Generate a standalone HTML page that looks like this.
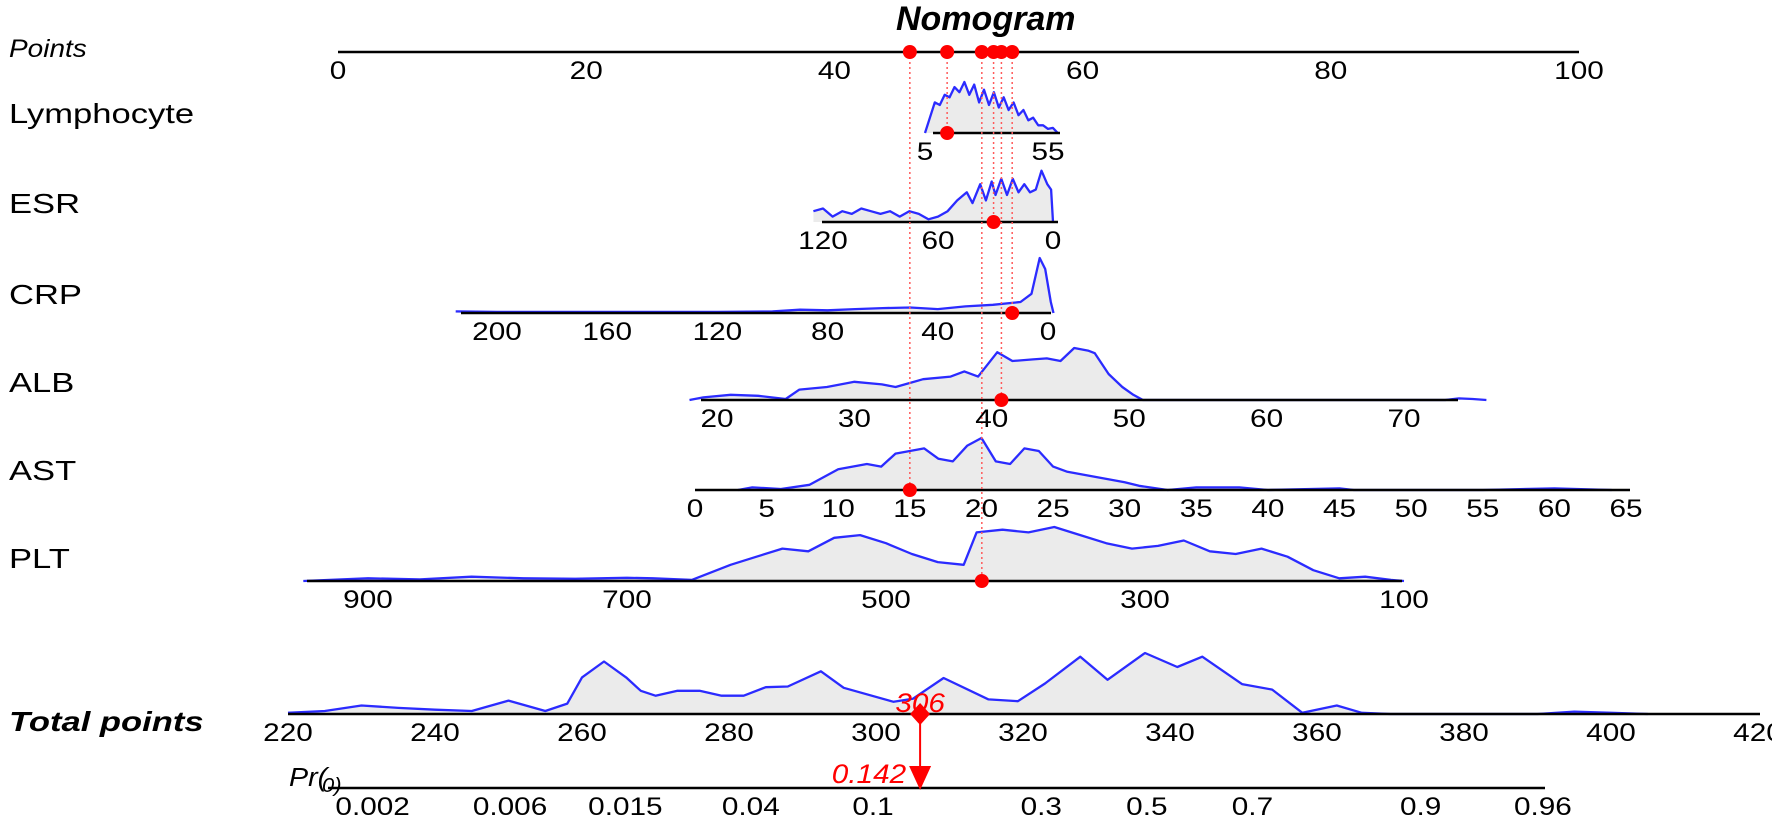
<!DOCTYPE html>
<html><head><meta charset="utf-8"><style>
html,body{margin:0;padding:0;background:#fff;}
svg{display:block;font-family:"Liberation Sans",sans-serif;}
</style></head>
<body>
<svg id="chart" width="1772" height="817" viewBox="0 0 1772 817" xmlns="http://www.w3.org/2000/svg">
<g id="dens"></g>
<g id="axes"></g>
<g id="marks"></g>
<g id="labels"></g>
</svg>
<script>
// ---- data ----
const pointsTicks = [0,20,40,60,80,100];
const lymphTicks = [5,55];
const esrTicks = [120,60,0];
const crpTicks = [200,160,120,80,40,0];
const albTicks = [20,30,40,50,60,70];
const astTicks = [0,5,10,15,20,25,30,35,40,45,50,55,60,65];
const pltTicks = [900,700,500,300,100];
const totalTicks = [220,240,260,280,300,320,340,360,380,400,420];
const prTicks = [0.002,0.006,0.015,0.04,0.1,0.3,0.5,0.7,0.9,0.96];
const prTickLabels = ["0.002","0.006","0.015","0.04","0.1","0.3","0.5","0.7","0.9","0.96"];

const lymphX = [5,7,9,11,13,15,17,19,21,23,25,27,29,31,33,35,37,39,41,43,45,47,49,51,53,55,57,59];
const lymphD = [0,0.3,0.6,0.55,0.75,0.7,0.9,0.8,1.0,0.75,0.95,0.6,0.85,0.55,0.8,0.5,0.7,0.45,0.6,0.35,0.45,0.25,0.3,0.15,0.15,0.08,0.1,0];
const esrX = [125,120,115,110,105,100,95,90,85,80,75,70,65,60,55,50,45,42,38,35,32,30,27,24,21,18,15,12,9,6,3,1,0];
const esrD = [0.2,0.25,0.1,0.2,0.15,0.25,0.2,0.15,0.2,0.1,0.2,0.15,0.05,0.1,0.2,0.4,0.55,0.35,0.7,0.4,0.75,0.5,0.8,0.5,0.8,0.55,0.7,0.55,0.6,0.95,0.7,0.6,0];
const crpX = [215,200,160,120,100,90,80,70,60,50,40,30,20,10,6,3,1,-1,-2];
const crpD = [0.03,0.02,0.02,0.02,0.03,0.06,0.05,0.07,0.09,0.1,0.07,0.12,0.15,0.2,0.35,1.0,0.8,0.2,0];
const albX = [18,19,21,23,25,26,28,30,32,33,35,37,38,39,40.4,41.5,43,44,45,46,47,47.5,48.5,49.5,50.3,51,73,74,75,76];
const albD = [0,0.05,0.1,0.08,0.02,0.2,0.25,0.35,0.3,0.25,0.4,0.45,0.55,0.45,0.92,0.75,0.78,0.8,0.75,1.0,0.95,0.9,0.5,0.25,0.1,0,0,0.03,0.02,0];
const astX = [3,4,6,8,10,12,13,14,16,17,18,19,20,21,22,23,24,25,26,27,28,29,30,31,33,35,38,40,45,46,55,60,64];
const astD = [0,0.05,0.02,0.1,0.4,0.5,0.45,0.7,0.8,0.6,0.55,0.85,1.0,0.55,0.5,0.8,0.75,0.45,0.35,0.3,0.25,0.2,0.15,0.08,0,0.05,0.05,0,0.03,0,0,0.03,0];
const pltX = [950,900,860,820,780,740,700,680,650,620,600,580,560,540,520,500,480,460,440,430,410,390,370,350,330,310,290,270,250,230,210,190,170,150,130,110,100];
const pltD = [0,0.05,0.03,0.08,0.05,0.04,0.06,0.05,0.02,0.3,0.45,0.6,0.55,0.8,0.85,0.7,0.5,0.35,0.3,0.9,0.95,0.9,1.0,0.85,0.7,0.6,0.65,0.75,0.55,0.5,0.6,0.45,0.2,0.05,0.08,0.02,0];
const totalX = [220,225,230,235,240,245,250,255,258,260,263,266,268,270,273,276,279,282,285,288,292.5,295.6,302.4,305,309.2,315.3,319.3,323,327.8,331.5,336.6,341,344.4,349.8,353.9,358,362.7,366.1,370,390,395,400,405];
const totalD = [0.02,0.05,0.14,0.1,0.07,0.05,0.22,0.05,0.17,0.6,0.86,0.6,0.38,0.3,0.38,0.38,0.3,0.3,0.44,0.45,0.7,0.43,0.2,0.25,0.59,0.24,0.21,0.5,0.94,0.56,1.0,0.77,0.94,0.49,0.4,0.02,0.14,0.02,0,0,0.04,0.02,0];

const selected = {lymph:14, esr:31, crp:13, alb:40.7, ast:15, plt:426};
const totalSelected = 306;
const probSelected = 0.142;

// ---- scales ----
function lin(d0,d1,r0,r1){return v=>r0+(v-d0)*(r1-r0)/(d1-d0);}
const sPts = lin(0,100,338,1579);
const sLym = lin(5,55,925,1048);
const sEsr = lin(120,0,823,1053);
const sCrp = lin(200,0,497,1048);
const sAlb = lin(20,70,717,1404);
const sAst = lin(0,65,695,1626);
const sPlt = lin(900,100,368,1404);
const sTot = lin(220,420,288,1758);
const prB = 0.05898, prC = 336.85;
const sPr = p => sTot(prC + Math.log(p/(1-p))/prB);

const NS = "http://www.w3.org/2000/svg";
function mk(tag, attrs, parent){const e=document.createElementNS(NS,tag);for(const k in attrs)e.setAttribute(k,attrs[k]);parent.appendChild(e);return e;}
const gD=document.getElementById('dens'),gA=document.getElementById('axes'),gM=document.getElementById('marks'),gL=document.getElementById('labels');

function text(str,x,y,size,opt,name){
  opt=opt||{};
  const t=mk('text',{x:0,y:0,'font-size':size,'text-anchor':opt.anchor||'middle',fill:opt.fill||'#000',
    'font-style':opt.italic?'italic':'normal','font-weight':opt.bold?'bold':'normal',
    transform:`translate(${x},${y}) scale(${opt.sx||1.19},1)`},gL);
  t.textContent=str;
  
  
  return t;
}

function axis(name,y,x0,x1,ticks,scale,labels){
  const l=mk('line',{x1:x0,x2:x1,y1:y,y2:y,stroke:'#000','stroke-width':2.5},gA);
  
  
  ticks.forEach((t,i)=>{
    text(labels?labels[i]:String(t),scale(t),y+27,25,{},name+'-tick-label');
  });
}

function density(name,y,xs,ds,scale,maxH){
  let d='M'+scale(xs[0])+','+y;
  xs.forEach((v,i)=>{d+=' L'+scale(v).toFixed(1)+','+(y-ds[i]*maxH).toFixed(1);});
  const f=mk('path',{d:d+' L'+scale(xs[xs.length-1])+','+y+' Z',fill:'#ebebeb',stroke:'none'},gD);
  
  
  let d2='';
  xs.forEach((v,i)=>{d2+=(i?' L':'M')+scale(v).toFixed(1)+','+(y-ds[i]*maxH).toFixed(1);});
  const p=mk('path',{d:d2,fill:'none',stroke:'#2b2bff','stroke-width':2.3,'stroke-linejoin':'round'},gD);
  
  
}

// rows
const Y={pts:52,lym:133,esr:222,crp:313,alb:400,ast:490,plt:581,tot:714,pr:788};
axis('points',Y.pts,338,1579,pointsTicks,sPts);
density('lymphocyte',Y.lym,lymphX,lymphD,sLym,51); axis('lymphocyte',Y.lym,933,1060,lymphTicks,sLym);
density('esr',Y.esr,esrX,esrD,sEsr,54); axis('esr',Y.esr,822,1058,esrTicks,sEsr);
density('crp',Y.crp,crpX,crpD,sCrp,55); axis('crp',Y.crp,461,1051,crpTicks,sCrp);
density('alb',Y.alb,albX,albD,sAlb,52); axis('alb',Y.alb,701,1458,albTicks,sAlb);
density('ast',Y.ast,astX,astD,sAst,52); axis('ast',Y.ast,695,1630,astTicks,sAst);
density('plt',Y.plt,pltX,pltD,sPlt,54); axis('plt',Y.plt,307,1402,pltTicks,sPlt);
density('total-points',Y.tot,totalX,totalD,sTot,61); axis('total-points',Y.tot,288,1760,totalTicks,sTot);
axis('probability',Y.pr,328,1545,prTicks,sPr,prTickLabels);

// selections
const sel=[['lymphocyte',sLym(selected.lymph),Y.lym],['esr',sEsr(selected.esr),Y.esr],['crp',sCrp(selected.crp),Y.crp],
  ['alb',sAlb(selected.alb),Y.alb],['ast',sAst(selected.ast),Y.ast],['plt',sPlt(selected.plt),Y.plt]];
sel.forEach(s=>{
  const ln=mk('line',{x1:s[1],x2:s[1],y1:Y.pts,y2:s[2],stroke:'#ff5a5a','stroke-width':1.5,'stroke-dasharray':'2,3'},gM);
  
  
  const c1=mk('circle',{cx:s[1],cy:Y.pts,r:7,fill:'#ff0000'},gM);
  
  
  const c2=mk('circle',{cx:s[1],cy:s[2],r:7,fill:'#ff0000'},gM);
  
  
});
const tx=sTot(totalSelected);
const ar=mk('line',{x1:tx,x2:tx,y1:Y.tot,y2:Y.pr-14,stroke:'#ff0000','stroke-width':2},gM);


const dm=mk('polygon',{points:`${tx},${Y.tot-11} ${tx+10},${Y.tot} ${tx},${Y.tot+11} ${tx-10},${Y.tot}`,fill:'#ff0000'},gM);


const tri=mk('polygon',{points:`${tx-11},${Y.pr-22} ${tx+11},${Y.pr-22} ${tx},${Y.pr+2}`,fill:'#ff0000'},gM);


text(String(totalSelected),tx,Y.tot-2,27,{italic:true,fill:'#ff0000',sx:1.1},'total-points-value');
text(probSelected.toFixed(3),tx-14,Y.pr-5,27,{italic:true,fill:'#ff0000',anchor:'end',sx:1.1},'probability-value');

// labels
text('Nomogram',896,30,34,{bold:true,italic:true,anchor:'start',sx:1.0},'chart-title');
text('Points',9,57,25,{italic:true,anchor:'start',sx:1.12},'points-label');
[['Lymphocyte',Y.lym-20],['ESR',Y.esr-19],['CRP',Y.crp-19],['ALB',Y.alb-18],['AST',Y.ast-20],['PLT',Y.plt-23]].forEach(v=>{
  text(v[0],9,v[1]+10,28,{anchor:'start',sx:1.235},v[0].toLowerCase()+'-label');
});
text('Total points',9,731,28,{bold:true,italic:true,anchor:'start',sx:1.235},'total-points-label');
text('Pr(',289,786,26,{italic:true,anchor:'start',sx:1.1},'probability-label');
text('0)',322,792,20,{italic:true,anchor:'start',sx:1.1},'probability-label-sub');
</script>
</body></html>
